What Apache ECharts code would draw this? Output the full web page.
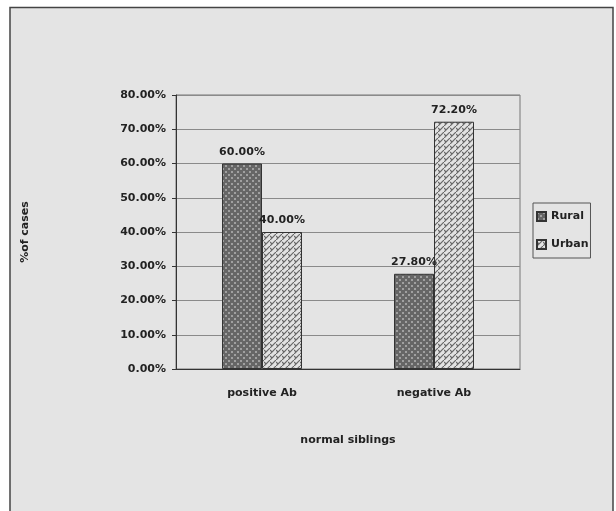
<!DOCTYPE html>
<html><head><meta charset="utf-8">
<script src="https://cdn.jsdelivr.net/npm/echarts@6/dist/echarts.min.js"></script>
<style>html,body{margin:0;padding:0;background:#fff}#c{width:616px;height:511px}</style>
</head><body><div id="c"></div>
<script>
var categories = ['positive Ab', 'negative Ab'];
var seriesNames = ['Rural', 'Urban'];
var rural = [60.00, 27.80];
var urban = [40.00, 72.20];
var yTicks = [0, 10, 20, 30, 40, 50, 60, 70, 80];

function makePattern(kind) {
  var c = document.createElement('canvas');
  c.width = 6; c.height = 6;
  var g = c.getContext('2d');
  if (kind === 'dots') {
    g.fillStyle = '#666666'; g.fillRect(0, 0, 6, 6);
    g.fillStyle = '#a0a0a0';
    g.fillRect(0, 0, 2, 2); g.fillRect(3, 3, 2, 2);
  } else {
    g.fillStyle = '#e2e2e2'; g.fillRect(0, 0, 6, 6);
    g.strokeStyle = '#666'; g.lineWidth = 1.2;
    g.beginPath(); g.moveTo(0, 6); g.lineTo(6, 0); g.stroke();
    g.beginPath(); g.moveTo(0, 2); g.lineTo(2, 4); g.stroke();
  }
  return c;
}
var font = 'DejaVu Sans';
var fs = 11;
var chart = echarts.init(document.getElementById('c'), null, {renderer: 'canvas'});
var lbl = {show: true, position: 'top', distance: 6, color: '#222', fontFamily: font, fontWeight: 'bold', fontSize: fs,
  formatter: function (p) { return p.value.toFixed(2) + '%'; }};
chart.setOption({
  backgroundColor: '#ffffff',
  animation: false,
  graphic: [{type: 'rect', z: -10, shape: {x: 10, y: 7.5, width: 603, height: 520},
    style: {fill: '#e4e4e4', stroke: '#444', lineWidth: 1.5}}],
  grid: {left: 176, right: 96, top: 95, bottom: 142, show: true, borderColor: '#777', borderWidth: 1, backgroundColor: 'transparent'},
  legend: {orient: 'vertical', left: 533, top: 203, itemWidth: 9, itemHeight: 9, itemGap: 17, icon: 'rect',
    borderColor: '#555', borderWidth: 1, padding: [8, 2, 8, 3],
    textStyle: {fontFamily: font, fontWeight: 'bold', fontSize: fs, color: '#222'},
    data: seriesNames},
  xAxis: {type: 'category', data: categories, name: 'normal siblings', nameLocation: 'middle', nameGap: 66,
    nameTextStyle: {fontFamily: font, fontWeight: 'bold', fontSize: fs, color: '#222'},
    axisLine: {lineStyle: {color: '#333', width: 1}}, axisTick: {show: false},
    axisLabel: {fontFamily: font, fontWeight: 'bold', fontSize: fs, color: '#222', margin: 19}},
  yAxis: {type: 'value', min: yTicks[0], max: yTicks[yTicks.length - 1], interval: 10,
    name: '%of cases', nameLocation: 'middle', nameGap: 145, nameRotate: 90,
    nameTextStyle: {fontFamily: font, fontWeight: 'bold', fontSize: fs, color: '#222', padding: [0, 0, 0, 0]},
    axisLine: {show: true, lineStyle: {color: '#333'}}, axisTick: {show: true, length: 4, lineStyle: {color: '#333'}},
    splitLine: {lineStyle: {color: '#8a8a8a', width: 1}},
    axisLabel: {fontFamily: font, fontWeight: 'bold', fontSize: fs, color: '#222', margin: 10,
      formatter: function (v) { return v.toFixed(2) + '%'; }}},
  series: [
    {name: seriesNames[0], type: 'bar', data: rural, barWidth: 40, barGap: '0%',
      itemStyle: {color: {image: makePattern('dots'), repeat: 'repeat'}, borderColor: '#333', borderWidth: 1}, label: lbl},
    {name: seriesNames[1], type: 'bar', data: urban, barWidth: 40, barGap: '0%',
      itemStyle: {color: {image: makePattern('hatch'), repeat: 'repeat'}, borderColor: '#333', borderWidth: 1}, label: lbl}
  ]
});
</script></body></html>
